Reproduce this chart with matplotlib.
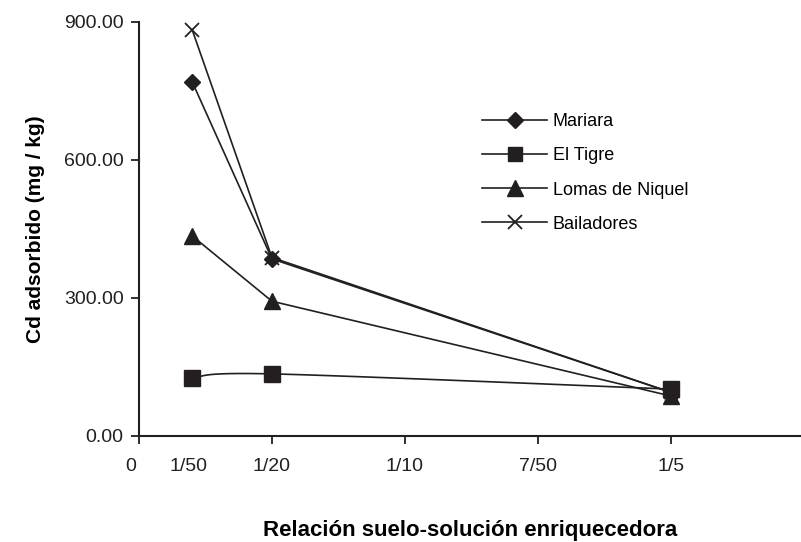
import numpy as np
import matplotlib
matplotlib.use("Agg")
import matplotlib.pyplot as plt
from matplotlib.transforms import ScaledTranslation

plt.rcParams['font.family'] = ['Liberation Sans', 'DejaVu Sans']

# Data
x_vals = [0.02, 0.05, 0.2]
mariara = [770, 385, 95]
el_tigre = [126, 135, 102]
lomas = [435, 293, 87]
bailadores = [883, 388, 95]

series_names = ["Mariara", "El Tigre", "Lomas de Niquel", "Bailadores"]
major_ticks = [0, 0.05, 0.10, 0.15, 0.20]
major_labels = ["", "1/20", "1/10", "7/50", "1/5"]
minor_ticks = [0.0, 0.0185]
minor_labels = ["0", "1/50"]
y_ticks = [0, 300, 600, 900]

color = '#231f20'

fig = plt.figure(figsize=(8.01, 5.42), dpi=100)
ax = fig.add_axes([139/801, (542-436)/542, (801-139)/801, (436-22)/542])


def smooth_bezier(xs, ys, n=60):
    xs = np.asarray(xs, float)
    ys = np.asarray(ys, float)
    pts = np.column_stack([xs, ys])
    out = []
    m = len(pts)
    for i in range(m - 1):
        p0 = pts[i]
        p3 = pts[i + 1]
        prev = pts[i - 1] if i > 0 else pts[i]
        nxt = pts[i + 2] if i + 2 < m else pts[i + 1]
        c1 = p0 + (p3 - prev) / 6.0
        c2 = p3 - (nxt - p0) / 6.0
        t = np.linspace(0, 1, n)[:, None]
        seg = ((1 - t) ** 3) * p0 + 3 * ((1 - t) ** 2) * t * c1 + 3 * (1 - t) * t ** 2 * c2 + t ** 3 * p3
        out.append(seg if i == 0 else seg[1:])
    arr = np.vstack(out)
    return arr[:, 0], arr[:, 1]


lw = 1.2
ax.plot(x_vals, mariara, color=color, lw=lw, marker='D', ms=8.5, label=series_names[0])
sx, sy = smooth_bezier(x_vals, el_tigre)
ax.plot(sx, sy, color=color, lw=lw)
ax.plot(x_vals, el_tigre, color=color, lw=0, marker='s', ms=11.5)
ax.plot([], [], color=color, lw=lw, marker='s', ms=10, label=series_names[1])
ax.plot(x_vals, lomas, color=color, lw=lw, marker='^', ms=11, label=series_names[2])
ax.plot(x_vals, bailadores, color=color, lw=lw, marker='x', ms=10, mew=1.3, label=series_names[3])

ax.xaxis.remove_overlapping_locs = False
ax.set_yticks(y_ticks)
ax.set_yticklabels([f"{v:.2f}" for v in y_ticks])
ax.set_xticks(major_ticks)
ax.set_xticklabels(major_labels)
ax.set_xticks(minor_ticks, minor=True)
ax.set_xticklabels(minor_labels, minor=True)
ax.set_xlim(0, 0.249)
ax.set_ylim(0, 900)

for s in ['top', 'right']:
    ax.spines[s].set_visible(False)
for s in ['left', 'bottom']:
    ax.spines[s].set_linewidth(1.5)
    ax.spines[s].set_color(color)

ax.tick_params(axis='both', which='major', direction='out', length=6, width=1.3,
               color=color, labelsize=14, labelcolor='#231f20')
ax.tick_params(axis='x', which='major', pad=10)
ax.tick_params(axis='x', which='minor', length=0, pad=16, labelsize=14, labelcolor='#231f20')
ax.tick_params(axis='y', pad=5)

# shift the "0" label slightly left of the origin, as in the original
zero_label = ax.xaxis.get_minor_ticks()[0].label1
zero_label.set_transform(zero_label.get_transform() + ScaledTranslation(-8/100, 0, fig.dpi_scale_trans))

ax.set_xlabel("Relación suelo-solución enriquecedora", fontsize=16, fontweight='bold', labelpad=32)
ax.set_ylabel("Cd adsorbido (mg / kg)", fontsize=15, fontweight='bold', labelpad=14)

leg = ax.legend(loc='upper left', bbox_to_anchor=(475/801, 1 - 106/542), bbox_transform=fig.transFigure,
                frameon=False, fontsize=13, handlelength=3.6, handletextpad=0.3,
                labelspacing=0.95, borderaxespad=0)

fig.savefig("out.png", dpi=100)
